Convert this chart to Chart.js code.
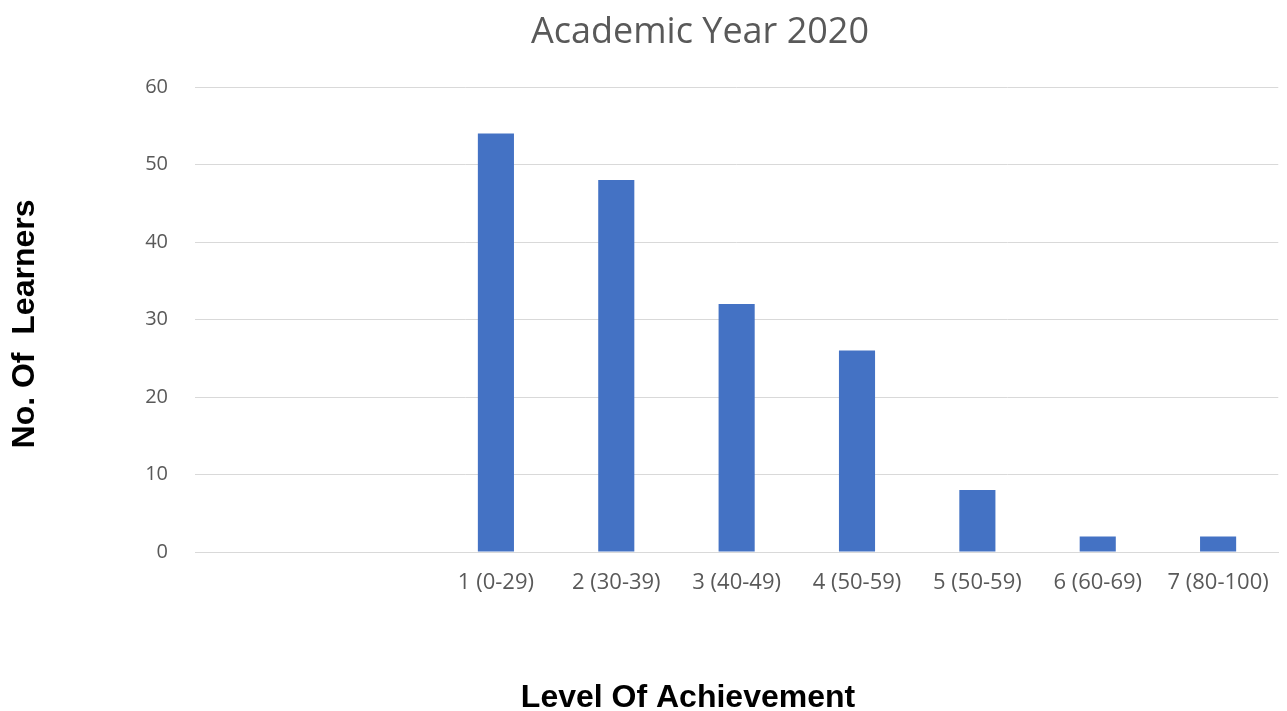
<!DOCTYPE html>
<html><head><meta charset="utf-8">
<script src="https://cdn.jsdelivr.net/npm/chart.js@4"></script>
<style>html,body{margin:0;padding:0;background:#fff}canvas{display:block}</style>
</head><body>
<canvas id="c" width="1287" height="711"></canvas>
<script>
const categories = ['', '', '1 (0-29)', '2 (30-39)', '3 (40-49)', '4 (50-59)', '5 (50-59)', '6 (60-69)', '7 (80-100)'];
const learners = [null, null, 54, 48, 32, 26, 8, 2, 2];
const yTicks = [0, 10, 20, 30, 40, 50, 60];
const chartTitle = 'Academic Year 2020';
const xTitle = 'Level Of Achievement';
const yTitle = 'No. Of  Learners';

const textPlugin = {
  id: 'textPlugin',
  afterDraw(chart) {
    const ctx = chart.ctx;
    ctx.save();
    ctx.textAlign = 'center';
    ctx.textBaseline = 'alphabetic';
    ctx.fillStyle = '#595959';
    ctx.font = '36px "Open Sans", Lato, sans-serif';
    ctx.fillText(chartTitle, 700, 43);
    ctx.fillStyle = '#000';
    ctx.font = 'bold 32px "Liberation Sans", Arial, sans-serif';
    ctx.fillText(xTitle, 688, 707);
    ctx.translate(34, 324);
    ctx.rotate(-Math.PI / 2);
    ctx.fillText(yTitle, 0, 0);
    ctx.restore();
  }
};

new Chart(document.getElementById('c'), {
  type: 'bar',
  data: {
    labels: categories,
    datasets: [{
      label: 'No. Of Learners',
      data: learners,
      backgroundColor: '#4472C4',
      borderWidth: 0,
      categoryPercentage: 1.0,
      barPercentage: 0.3
    }]
  },
  plugins: [textPlugin],
  options: {
    responsive: false,
    animation: false,
    layout: { padding: { left: 0, right: 5, top: 87, bottom: 0 } },
    plugins: {
      legend: { display: false },
      tooltip: { enabled: false },
      title: { display: false }
    },
    scales: {
      x: {
        grid: { display: false, drawTicks: false },
        border: { display: true, color: '#d9d9d9', width: 1 },
        ticks: {
          color: '#595959',
          font: { family: '"Open Sans", Lato, sans-serif', size: 22 },
          padding: 18,
          maxRotation: 0,
          autoSkip: false
        },
        afterFit: (s) => { s.height = 711 - 552; }
      },
      y: {
        min: 0, max: 60,
        afterBuildTicks: (s) => { s.ticks = yTicks.map(v => ({ value: v })); },
        grid: { color: '#d9d9d9', lineWidth: 1, drawTicks: false },
        border: { display: false },
        ticks: {
          color: '#595959',
          font: { family: '"Open Sans", Lato, sans-serif', size: 20 },
          padding: 27
        },
        afterFit: (s) => { s.width = 195; }
      }
    }
  }
});
</script>
</body></html>
